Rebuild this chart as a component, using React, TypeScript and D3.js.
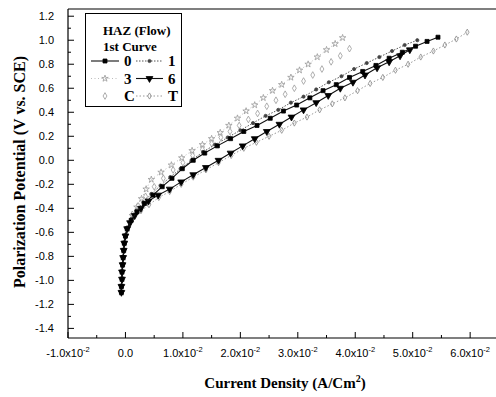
import React from 'react'
import * as d3 from 'd3'

// Polarization curves, HAZ (Flow), 1st curve
const W = 496
const H = 397
const margin = { top: 9, right: 0, bottom: 59, left: 68 }

// shared near-vertical foot of the curves (x in A/cm2, y in V vs SCE)
const foot = [
  [-0.0007, -1.1], [-0.0007, -1.05], [-0.0006, -0.99], [-0.0006, -0.93], [-0.0005, -0.87],
  [-0.0004, -0.81], [-0.0003, -0.75], [-0.0002, -0.69], [0.0, -0.63], [0.0003, -0.57]
]

const curve0 = [
  [0.001, -0.5], [0.002, -0.43], [0.0033, -0.36], [0.0048, -0.29], [0.0064, -0.22], [0.0081, -0.15],
  [0.0099, -0.07], [0.0118, 0.0], [0.0138, 0.06], [0.016, 0.12], [0.0183, 0.18], [0.0206, 0.24],
  [0.0229, 0.29], [0.0252, 0.35], [0.0275, 0.41], [0.0298, 0.46], [0.0321, 0.52], [0.0344, 0.58],
  [0.0367, 0.63], [0.039, 0.69], [0.0413, 0.74], [0.0436, 0.79], [0.0459, 0.85], [0.0482, 0.9],
  [0.0505, 0.95], [0.0525, 0.99], [0.0544, 1.025]
]

const curve1 = [
  [0.001, -0.49], [0.0019, -0.42], [0.0031, -0.35], [0.0045, -0.28], [0.0061, -0.21], [0.0078, -0.14],
  [0.0096, -0.07], [0.0115, 0.0], [0.0135, 0.07], [0.0156, 0.13], [0.0178, 0.19], [0.02, 0.25],
  [0.0222, 0.31], [0.0244, 0.37], [0.0266, 0.42], [0.0288, 0.48], [0.031, 0.53], [0.0332, 0.59],
  [0.0354, 0.65], [0.0376, 0.7], [0.0398, 0.76], [0.042, 0.81], [0.0442, 0.86], [0.0464, 0.91],
  [0.0486, 0.96], [0.0508, 1.0]
]

const curve3 = [
  [0.0012, -0.46], [0.002, -0.39], [0.0028, -0.32], [0.0036, -0.24], [0.0045, -0.16], [0.0062, -0.1],
  [0.008, -0.04], [0.0098, 0.02], [0.0116, 0.08], [0.0134, 0.13], [0.015, 0.18], [0.0165, 0.23],
  [0.018, 0.29], [0.0195, 0.35], [0.021, 0.41], [0.0225, 0.46], [0.024, 0.52], [0.0256, 0.58],
  [0.0272, 0.63], [0.0288, 0.69], [0.0303, 0.75], [0.0318, 0.8], [0.0334, 0.86], [0.035, 0.92],
  [0.0365, 0.97], [0.0378, 1.02]
]

const curve6 = [
  [0.0008, -0.52], [0.0016, -0.46], [0.0027, -0.4], [0.004, -0.34], [0.0057, -0.29], [0.0077, -0.24],
  [0.0097, -0.18], [0.0118, -0.12], [0.014, -0.06], [0.0162, 0.0], [0.0183, 0.06], [0.0204, 0.12],
  [0.0225, 0.18], [0.0246, 0.24], [0.0268, 0.3], [0.0289, 0.36], [0.031, 0.42], [0.0332, 0.48],
  [0.0353, 0.54], [0.0374, 0.6], [0.0396, 0.65], [0.0417, 0.71], [0.0438, 0.77], [0.0459, 0.82],
  [0.0478, 0.87], [0.0495, 0.92]
]

const curveC = [
  [0.0012, -0.45], [0.0022, -0.38], [0.0035, -0.3], [0.005, -0.22], [0.0066, -0.15], [0.0083, -0.08],
  [0.01, -0.02], [0.0117, 0.04], [0.0134, 0.09], [0.015, 0.14], [0.0166, 0.19], [0.0182, 0.24],
  [0.0198, 0.29], [0.0214, 0.34], [0.023, 0.39], [0.0246, 0.45], [0.0262, 0.5], [0.0278, 0.55],
  [0.0294, 0.6], [0.031, 0.66], [0.0326, 0.71], [0.0342, 0.76], [0.0358, 0.82], [0.0374, 0.87],
  [0.039, 0.93]
]

const curveT = [
  [0.0008, -0.53], [0.0016, -0.47], [0.0027, -0.42], [0.0041, -0.37], [0.0058, -0.31], [0.0077, -0.26],
  [0.0097, -0.2], [0.0118, -0.14], [0.014, -0.08], [0.0162, -0.02], [0.0184, 0.04], [0.0206, 0.1],
  [0.0228, 0.15], [0.025, 0.2], [0.0272, 0.25], [0.0294, 0.31], [0.0316, 0.36], [0.0338, 0.42],
  [0.036, 0.47], [0.0382, 0.52], [0.0404, 0.58], [0.0426, 0.64], [0.0448, 0.69], [0.047, 0.75],
  [0.0492, 0.8], [0.0514, 0.86], [0.0536, 0.91], [0.0556, 0.96], [0.0576, 1.01], [0.0595, 1.067]
]

const xTicks = [-0.01, 0, 0.01, 0.02, 0.03, 0.04, 0.05, 0.06]
const xMinor = [-0.005, 0.005, 0.015, 0.025, 0.035, 0.045, 0.055]
const yTicks = [-1.4, -1.2, -1.0, -0.8, -0.6, -0.4, -0.2, 0.0, 0.2, 0.4, 0.6, 0.8, 1.0, 1.2]
const yMinor = [-1.3, -1.1, -0.9, -0.7, -0.5, -0.3, -0.1, 0.1, 0.3, 0.5, 0.7, 0.9, 1.1]

const legendRows = [['0', '1'], ['3', '6'], ['C', 'T']]

const seriesData: Record<string, number[][]> = {
  '0': foot.concat(curve0),
  '1': foot.concat(curve1),
  '3': foot.concat(curve3),
  '6': foot.concat(curve6),
  C: foot.concat(curveC),
  T: foot.concat(curveT)
}

const styles: Record<string, any> = {
  '0': { line: '#111', dash: null, lw: 1.1, symbol: d3.symbolSquare, size: 16, fill: '#000', stroke: '#000', rot: 0 },
  '1': { line: '#555', dash: '1.5,1.5', lw: 1, symbol: d3.symbolCircle, size: 8, fill: '#444', stroke: '#444', rot: 0 },
  '3': { line: '#bbb', dash: '1,2.5', lw: 1, symbol: d3.symbolStar, size: 13, fill: 'none', stroke: '#999', rot: 0 },
  '6': { line: '#111', dash: null, lw: 1.1, symbol: d3.symbolTriangle, size: 20, fill: '#000', stroke: '#000', rot: 180 },
  C: { line: null, dash: null, lw: 0, symbol: d3.symbolDiamond, size: 13, fill: '#fff', stroke: '#999', rot: 0 },
  T: { line: '#999', dash: '1.5,2', lw: 1, symbol: d3.symbolDiamond, size: 11, fill: 'none', stroke: '#888', rot: 0 }
}

const drawOrder = ['3', 'C', 'T', '1', '6', '0']

const serif = '"Liberation Serif", "DejaVu Serif", serif'
const sans = '"Liberation Sans", Arial, sans-serif'

export default function App() {
  const x = d3.scaleLinear().domain([-0.01, 0.0645]).range([margin.left, W - margin.right])
  const y = d3.scaleLinear().domain([-1.48, 1.26]).range([H - margin.bottom, margin.top])
  const line = d3.line<number[]>().x(d => x(d[0])).y(d => y(d[1]))
  const x0 = margin.left
  const y0 = H - margin.bottom

  const marker = (key: string, cx: number, cy: number, k: string | number) => {
    const s = styles[key]
    const path = d3.symbol().type(s.symbol).size(s.size)() || ''
    return (
      <path key={k} d={path} transform={`translate(${cx},${cy}) rotate(${s.rot})`}
        fill={s.fill} stroke={s.stroke} strokeWidth={0.8} />
    )
  }

  return (
    <svg width={W} height={H} style={{ position: 'absolute', left: 0, top: 0, background: '#fff' }}>
      {/* frame */}
      <line x1={x0} x2={W} y1={margin.top} y2={margin.top} stroke="#000" strokeWidth={1.2} />
      <line x1={x0} x2={W} y1={y0} y2={y0} stroke="#000" strokeWidth={1.2} />
      <line x1={x0} x2={x0} y1={margin.top} y2={y0} stroke="#000" strokeWidth={1.2} />

      {/* x ticks */}
      {xTicks.map(v => (
        <g key={'xt' + v}>
          <line x1={x(v)} x2={x(v)} y1={y0} y2={y0 - 6} stroke="#000" />
          <text x={x(v)} y={357} textAnchor="middle" fontFamily={sans} fontSize={11}>
            {v === 0 ? '0.0' : (
              <>
                <tspan>{(v * 100).toFixed(1)}x10</tspan>
                <tspan dy={-5} fontSize={7.5}>-2</tspan>
              </>
            )}
          </text>
        </g>
      ))}
      {xMinor.map(v => (
        <line key={'xm' + v} x1={x(v)} x2={x(v)} y1={y0} y2={y0 - 3} stroke="#000" />
      ))}

      {/* y ticks */}
      {yTicks.map(v => (
        <g key={'yt' + v}>
          <line x1={x0} x2={x0 + 6} y1={y(v)} y2={y(v)} stroke="#000" />
          <text x={54} y={y(v) + 4} textAnchor="end" fontFamily={sans} fontSize={11}>{v.toFixed(1)}</text>
        </g>
      ))}
      {yMinor.map(v => (
        <line key={'ym' + v} x1={x0} x2={x0 + 3} y1={y(v)} y2={y(v)} stroke="#000" />
      ))}

      {/* series */}
      {drawOrder.map(key => {
        const s = styles[key]
        const pts = seriesData[key]
        return (
          <g key={'s' + key}>
            {s.line && (
              <path d={line(pts) || ''} fill="none" stroke={s.line} strokeWidth={s.lw}
                strokeDasharray={s.dash || undefined} />
            )}
            {pts.map((p, i) => marker(key, x(p[0]), y(p[1]), i))}
          </g>
        )
      })}

      {/* legend */}
      <rect x={85.5} y={13.5} width={96} height={93} fill="#fff" stroke="#000" strokeWidth={1} />
      <text x={103} y={35} fontFamily={serif} fontWeight="bold" fontSize={13}>HAZ (Flow)</text>
      <text x={103} y={51} fontFamily={serif} fontWeight="bold" fontSize={13}>1st Curve</text>
      {legendRows.map((row, r) => {
        const ly = 61 + r * 17.5
        return row.map((key, c) => {
          const lx1 = c === 0 ? 91 : 136
          const lx2 = c === 0 ? 119 : 163
          const s = styles[key]
          return (
            <g key={'lg' + key}>
              {s.line && (
                <line x1={lx1} x2={lx2} y1={ly} y2={ly} stroke={s.line} strokeWidth={s.lw}
                  strokeDasharray={s.dash || undefined} />
              )}
              {marker(key, (lx1 + lx2) / 2, ly, 'm')}
              <text x={c === 0 ? 124 : 168} y={ly + 5} fontFamily={serif} fontWeight="bold" fontSize={15}>{key}</text>
            </g>
          )
        })
      })}

      {/* axis titles */}
      <text x={285} y={388} textAnchor="middle" fontFamily={serif} fontWeight="bold" fontSize={15}>
        Current Density (A/Cm<tspan dy={-6} fontSize={10}>2</tspan><tspan dy={6}>)</tspan>
      </text>
      <text transform={`translate(25,${172}) rotate(-90)`} textAnchor="middle" fontFamily={serif}
        fontWeight="bold" fontSize={16}>
        Polarization Potential (V vs. SCE)
      </text>
    </svg>
  )
}
